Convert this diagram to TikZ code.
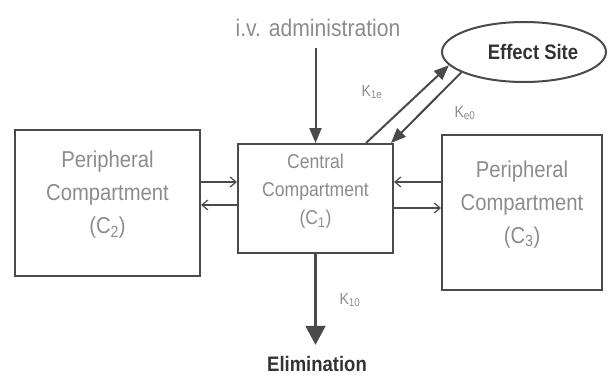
\documentclass[tikz,border=0pt]{standalone}
\usepackage{fontspec}
\setmainfont{Liberation Sans}[FakeStretch=0.88]
\usepackage{xcolor}
\usepackage{tikz}
\usetikzlibrary{shapes.geometric, arrows.meta, calc, positioning, fit}

\definecolor{txtgray}{HTML}{8C8C8C}
\definecolor{linegray}{HTML}{4A4A4A}
\definecolor{darktxt}{HTML}{333333}

\begin{document}
\begin{tikzpicture}[x=1pt, y=-1pt,
	box/.style = {draw=linegray, line width=2pt, inner sep=0pt, align=center, text=txtgray},
	flow/.style = {linegray, line width=1.2pt, -{Straight Barb[length=6pt,width=10pt]}},
	arrow/.style = {linegray, line width=2pt, -{Triangle[length=15pt,width=12pt]}},
	klabel/.style = {text=txtgray, font=\fontsize{16}{18}\selectfont}]
		\useasboundingbox (0,0) rectangle (609,378);

		\node[box, fit={(15,130) (200,276)}, font=\fontsize{23}{33}\selectfont] (p2) {Peripheral\\Compartment\\(C\textsubscript{2})};
		\node[box, fit={(238,144) (393,253)}, font=\fontsize{20}{28}\selectfont] (c1) {Central\\Compartment\\(C\textsubscript{1})};
		\node[box, fit={(442,135) (602,290)}, font=\fontsize{23}{33}\selectfont] (p3) {Peripheral\\Compartment\\(C\textsubscript{3})};

		\node[ellipse, draw=linegray, line width=2pt, minimum width=164pt, minimum height=60pt, text=darktxt, font=\bfseries\fontsize{21}{24}\selectfont] (es) at (524,52) {\hspace*{18pt}\raisebox{-5pt}{Effect Site}};

		\node[text=txtgray, font=\fontsize{24}{28}\selectfont] (iv) at (318,28) {i.v. administration};
		\node[text=darktxt, font=\bfseries\fontsize{21}{24}\selectfont] (elim) at (317,364) {Elimination};

		\node[klabel] (k1e) at (372,92) {K\textsubscript{1e}};
		\node[klabel] (ke0) at (465,113) {K\textsubscript{e0}};
		\node[klabel] (k10) at (350,300) {K\textsubscript{10}};

		\draw [flow] ([yshift=21pt]p2.east) -- ([yshift=16.5pt]c1.west);
		\draw [flow] ([yshift=-6.5pt]c1.west) -- ([yshift=-2pt]p2.east);
		\draw [flow] ([yshift=30.5pt]p3.west) -- ([yshift=16.5pt]c1.east);
		\draw [flow] ([yshift=-9.5pt]c1.east) -- ([yshift=4.5pt]p3.west);

		\draw [arrow, shorten <=8pt] (iv.south -| c1.north) -- (c1.north);
		\draw [arrow] ([xshift=-28pt]c1.north east) -- (es.190);
		\draw [arrow] (es.198) -- ([xshift=-3pt]c1.north east);
		\draw [linegray, line width=2.2pt, -{Triangle[length=19pt,width=20pt]}, shorten >=8pt] (c1.south) -- (elim.north -| c1.south);

	\end{tikzpicture}
\end{document}
